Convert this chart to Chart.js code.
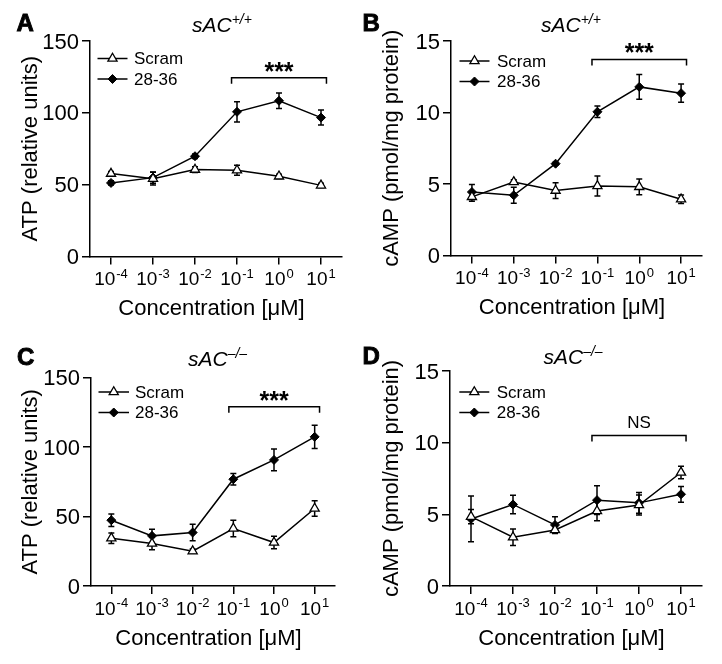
<!DOCTYPE html>
<html><head><meta charset="utf-8">
<script src="https://cdn.jsdelivr.net/npm/chart.js@4.4.1/dist/chart.umd.min.js"></script>
<style>
html,body{margin:0;padding:0;background:#fff;}
#wrap{position:relative;width:722px;height:664px;overflow:hidden;font-family:"Liberation Sans",Arial,sans-serif;color:#000;}
.panel{position:absolute;width:361px;height:332px;}
.panel canvas{position:absolute;left:0;top:0;}
.letter{position:absolute;font-weight:bold;font-size:24px;line-height:1;-webkit-text-stroke:0.9px #000;}
.ptitle{position:absolute;font-style:italic;font-size:21px;line-height:1;white-space:nowrap;}
.ptitle sup{font-size:14px;position:relative;top:-8px;vertical-align:baseline;}
</style></head>
<body><div id="wrap"></div>
<script>
// ---------- data ----------
const concentrationExponents = ['-4','-3','-2','-1','0','1'];
const seriesNames = ['Scram','28-36'];
const panelLetters = ['A','B','C','D'];
const panelGenotypes = ['+/+','+/+','\u2013/\u2013','\u2013/\u2013'];
const yTitles = ['ATP (relative units)','cAMP (pmol/mg protein)','ATP (relative units)','cAMP (pmol/mg protein)'];
const xTitle = 'Concentration [\u03bcM]';
const significance = ['***','***','***','NS'];

// Panel A: ATP, sAC+/+
const atpWtScram      = [57.7, 54.2, 60.5, 60.0, 55.8, 49.5];
const atpWtScramErr   = [1.5, 4.5, 2.0, 3.5, 1.5, 1.5];
const atpWtPep        = [51.2, 54.9, 69.8, 100.7, 108.4, 96.7];
const atpWtPepErr     = [1.5, 4.0, 1.5, 7.0, 5.4, 5.2];
// Panel B: cAMP, sAC+/+
const campWtScram     = [4.10, 5.14, 4.54, 4.86, 4.80, 3.93];
const campWtScramErr  = [0.30, 0.15, 0.55, 0.70, 0.55, 0.30];
const campWtPep       = [4.44, 4.21, 6.42, 10.05, 11.79, 11.35];
const campWtPepErr    = [0.52, 0.56, 0.10, 0.40, 0.87, 0.64];
// Panel C: ATP, sAC-/-
const atpKoScram      = [34.4, 30.6, 25.1, 41.4, 31.3, 55.8];
const atpKoScramErr   = [3.8, 4.5, 1.5, 6.0, 4.5, 5.6];
const atpKoPep        = [47.4, 36.1, 38.5, 76.9, 90.8, 107.4];
const atpKoPepErr     = [4.5, 4.8, 6.0, 4.2, 7.8, 8.4];
// Panel D: cAMP, sAC-/-
const campKoScram     = [4.84, 3.40, 3.91, 5.23, 5.65, 7.92];
const campKoScramErr  = [0.50, 0.58, 0.25, 0.67, 0.70, 0.43];
const campKoPep       = [4.68, 5.69, 4.26, 5.99, 5.80, 6.40];
const campKoPepErr    = [1.60, 0.65, 0.58, 1.00, 0.73, 0.55];

const yMax  = [150, 15, 150, 15];
const yStep = [50, 5, 50, 5];
const bracketFrom = [2.87, 2.87, 2.89, 2.88];
const bracketTo   = [5.13, 5.13, 5.12, 5.12];
const bracketY    = [124.5, 13.7, 129, 10.5];

// ---------- layout (styles / positions) ----------
const FONT = '"Liberation Sans", Arial, sans-serif';
const layouts = [
  {px:0,   py:0,   area:{left:90, top:41,   right:342, bottom:256.5}, leg:{x1:97.5, x2:127.5, tx:134, y:58.5}, letter:{x:16.5, b:31.7}, title:{x:192, b:31.7}},
  {px:361, py:0,   area:{left:90, top:41,   right:341, bottom:255.5}, leg:{x1:98.5, x2:128.5, tx:136, y:61},   letter:{x:1.5,  b:30.9}, title:{x:180, b:31.7}},
  {px:0,   py:332, area:{left:91, top:45.7, right:335, bottom:254},   leg:{x1:98.5, x2:129,   tx:135, y:60},   letter:{x:17,   b:33},   title:{x:188, b:33.3}},
  {px:361, py:332, area:{left:89, top:39,   right:341, bottom:254},   leg:{x1:98.3, x2:128.3, tx:135.7, y:60}, letter:{x:1.5, b:32}, title:{x:182.5, b:31.7}}
];
const panelData = [
  [atpWtScram, atpWtScramErr, atpWtPep, atpWtPepErr],
  [campWtScram, campWtScramErr, campWtPep, campWtPepErr],
  [atpKoScram, atpKoScramErr, atpKoPep, atpKoPepErr],
  [campKoScram, campKoScramErr, campKoPep, campKoPepErr]
];
const XH = 75;

Chart.defaults.color = '#000';
Chart.defaults.font.family = FONT;

function drawMarker(ctx, ds, x, y){
  ctx.save();
  ctx.fillStyle = ds.pointBackgroundColor;
  ctx.strokeStyle = ds.pointBorderColor;
  ctx.lineWidth = ds.pointBorderWidth;
  const opts = {pointStyle: ds.pointStyle, radius: ds.pointRadius, rotation: 0, borderWidth: ds.pointBorderWidth};
  if (Chart.helpers && Chart.helpers.drawPoint) {
    Chart.helpers.drawPoint(ctx, opts, x, y);
  } else {
    const r = ds.pointRadius;
    ctx.beginPath();
    if (ds.pointStyle === 'triangle') {
      for (let k = 0; k < 3; k++) {
        const a = -Math.PI/2 + k*2*Math.PI/3;
        const X = x + Math.cos(a)*r, Y = y + Math.sin(a)*r;
        k ? ctx.lineTo(X, Y) : ctx.moveTo(X, Y);
      }
    } else {
      ctx.moveTo(x - r, y); ctx.lineTo(x, y - r); ctx.lineTo(x + r, y); ctx.lineTo(x, y + r);
    }
    ctx.closePath(); ctx.fill(); ctx.stroke();
  }
  ctx.restore();
}

const errorBarPlugin = {
  id: 'errorBars',
  beforeDatasetsDraw(chart){
    const ctx = chart.ctx, xs = chart.scales.x, ys = chart.scales.y;
    ctx.save();
    ctx.strokeStyle = '#000'; ctx.lineWidth = 1.5;
    chart.data.datasets.forEach(ds => {
      ds.data.forEach((v, i) => {
        const e = ds.errors[i];
        const px = xs.getPixelForValue(i);
        const t = ys.getPixelForValue(v + e), b = ys.getPixelForValue(v - e);
        ctx.beginPath();
        ctx.moveTo(px, t); ctx.lineTo(px, b);
        ctx.moveTo(px - 3, t); ctx.lineTo(px + 3, t);
        ctx.moveTo(px - 3, b); ctx.lineTo(px + 3, b);
        ctx.stroke();
      });
    });
    ctx.restore();
  }
};

const overlayPlugin = {
  id: 'overlay',
  afterDraw(chart){
    const o = chart.options.plugins.overlay;
    const ctx = chart.ctx, xs = chart.scales.x, ys = chart.scales.y;
    ctx.save();
    ctx.fillStyle = '#000';
    // y tick labels from the scale's own ticks
    ctx.font = '22px ' + FONT;
    ctx.textAlign = 'right'; ctx.textBaseline = 'middle';
    ys.ticks.forEach(t => {
      ctx.fillText(String(t.value), ys.right - 11, ys.getPixelForValue(t.value) + 1.5);
    });
    // x tick labels with superscript exponents
    ctx.textBaseline = 'alphabetic';
    ctx.textAlign = 'left';
    concentrationExponents.forEach((ex, i) => {
      const px = xs.getPixelForTick(i);
      ctx.font = '19px ' + FONT;
      const w1 = ctx.measureText('10').width;
      ctx.font = '13px ' + FONT;
      const w2 = ctx.measureText(ex).width;
      const x0 = px - (w1 + w2 + 1) / 2;
      const by = xs.top + 28.5;
      ctx.font = '19px ' + FONT;
      ctx.fillText('10', x0, by);
      ctx.font = '13px ' + FONT;
      ctx.fillText(ex, x0 + w1 + 1, by - 7.5);
    });
    // x axis title
    ctx.font = '22px ' + FONT;
    ctx.textAlign = 'center'; ctx.textBaseline = 'alphabetic';
    ctx.fillText(xTitle, (xs.left + xs.right) / 2 - 4.5, xs.top + 58.5);
    // significance bracket
    const bx1 = xs.getPixelForValue(o.from), bx2 = xs.getPixelForValue(o.to);
    const by = ys.getPixelForValue(o.y);
    ctx.strokeStyle = '#000'; ctx.lineWidth = 1.5;
    ctx.beginPath();
    ctx.moveTo(bx1, by + 6); ctx.lineTo(bx1, by); ctx.lineTo(bx2, by); ctx.lineTo(bx2, by + 6);
    ctx.stroke();
    ctx.textAlign = 'center'; ctx.textBaseline = 'middle';
    if (o.text === 'NS') {
      ctx.font = '17px ' + FONT;
      ctx.fillText(o.text, (bx1 + bx2) / 2, by - 12);
    } else {
      ctx.font = 'bold 25px ' + FONT;
      ctx.fillText(o.text, (bx1 + bx2) / 2, by - 5);
    }
    // legend
    const L = o.legend;
    chart.data.datasets.forEach((ds, k) => {
      const y = L.y + k * 20.5;
      ctx.strokeStyle = '#000'; ctx.lineWidth = ds.borderWidth;
      ctx.beginPath(); ctx.moveTo(L.x1, y); ctx.lineTo(L.x2, y); ctx.stroke();
      drawMarker(ctx, ds, (L.x1 + L.x2) / 2, y);
      ctx.fillStyle = '#000';
      ctx.font = '17px ' + FONT;
      ctx.textAlign = 'left'; ctx.textBaseline = 'middle';
      ctx.fillText(ds.label, L.tx, y + 1);
    });
    ctx.restore();
  }
};

const wrap = document.getElementById('wrap');
layouts.forEach((lay, p) => {
  const div = document.createElement('div');
  div.className = 'panel';
  div.style.left = lay.px + 'px'; div.style.top = lay.py + 'px';
  const cv = document.createElement('canvas');
  cv.width = 361; cv.height = 332;
  cv.style.width = '361px'; cv.style.height = '332px';
  div.appendChild(cv);
  const letter = document.createElement('div');
  letter.className = 'letter';
  letter.textContent = panelLetters[p];
  letter.style.left = lay.letter.x + 'px';
  letter.style.top = (lay.letter.b - 20.3) + 'px';
  div.appendChild(letter);
  const title = document.createElement('div');
  title.className = 'ptitle';
  title.innerHTML = 'sAC<sup>' + panelGenotypes[p] + '</sup>';
  title.style.left = lay.title.x + 'px';
  title.style.top = (lay.title.b - 17.8) + 'px';
  div.appendChild(title);
  wrap.appendChild(div);

  const [sv, se, pv, pe] = panelData[p];
  const a = lay.area;
  const axisGrid = {display: true, drawOnChartArea: false, drawTicks: true, tickLength: 8, color: '#000', lineWidth: 1.5};
  const axisBorder = {display: true, color: '#000', width: 1.5};
  new Chart(cv, {
    type: 'line',
    data: {
      labels: concentrationExponents.map(e => '10^' + e),
      datasets: [
        {label: seriesNames[0], data: sv, errors: se, borderColor: '#000', borderWidth: 1.5,
         pointStyle: 'triangle', pointRadius: 5.3, pointBackgroundColor: '#fff', pointBorderColor: '#000', pointBorderWidth: 1.3, tension: 0},
        {label: seriesNames[1], data: pv, errors: pe, borderColor: '#000', borderWidth: 1.5,
         pointStyle: 'rectRot', pointRadius: 4.5, pointBackgroundColor: '#000', pointBorderColor: '#000', pointBorderWidth: 1, tension: 0}
      ]
    },
    options: {
      responsive: false, animation: false, devicePixelRatio: 1,
      layout: {padding: {left: 0, top: a.top, right: 361 - a.right, bottom: 332 - a.bottom - XH}},
      plugins: {
        legend: {display: false}, tooltip: {enabled: false},
        overlay: {from: bracketFrom[p], to: bracketTo[p], y: bracketY[p], text: significance[p], legend: lay.leg}
      },
      scales: {
        x: {
          type: 'category', offset: true,
          grid: axisGrid, border: axisBorder,
          ticks: {display: false},
          afterFit(s){ s.height = XH; }
        },
        y: {
          min: 0, max: yMax[p],
          grid: axisGrid, border: axisBorder,
          ticks: {stepSize: yStep[p], display: false},
          title: {display: true, text: yTitles[p], color: '#000', font: {size: 22, family: FONT}, padding: {top: 17.5, bottom: 0}},
          afterFit(s){ s.width = a.left; }
        }
      }
    },
    plugins: [errorBarPlugin, overlayPlugin]
  });
});
</script>
</body></html>
